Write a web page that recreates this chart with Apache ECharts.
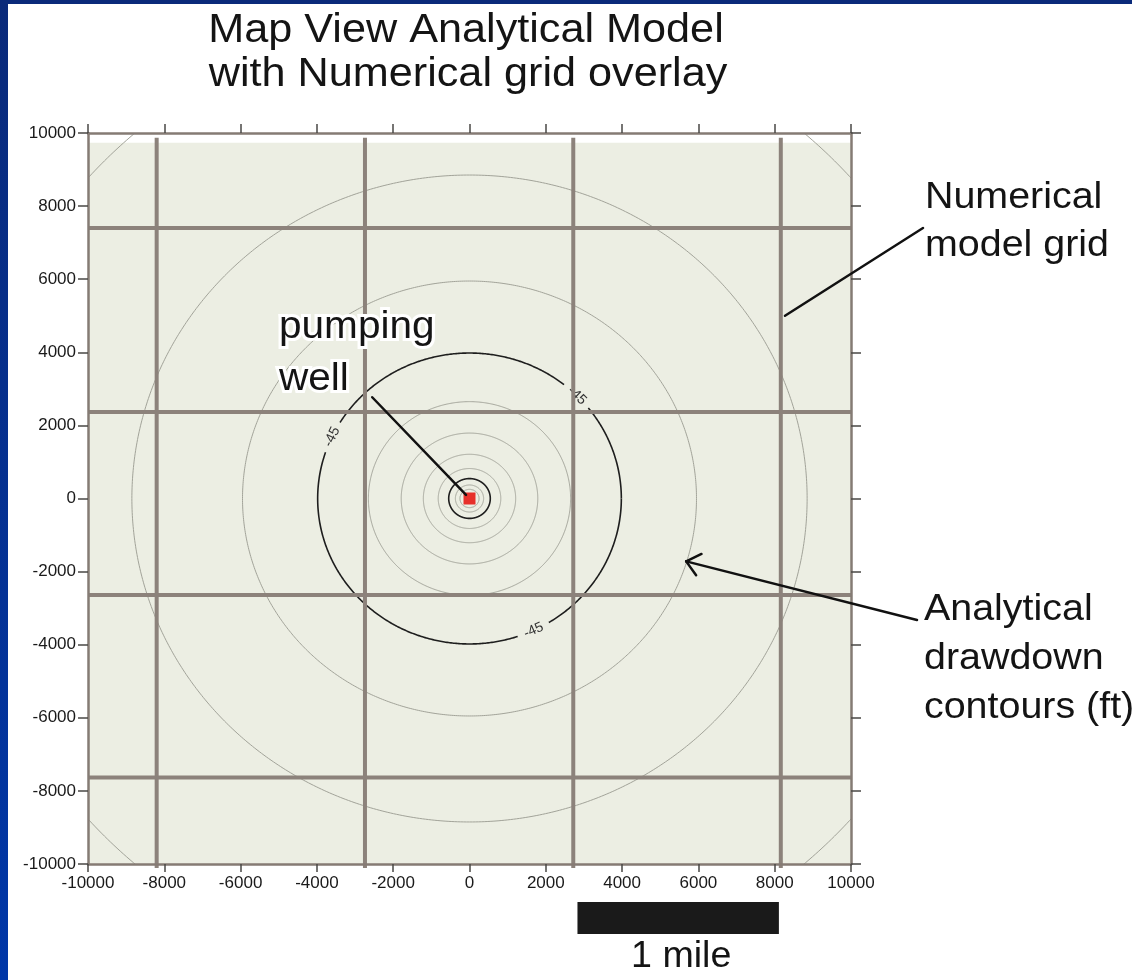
<!DOCTYPE html>
<html><head><meta charset="utf-8">
<script src="https://cdn.jsdelivr.net/npm/echarts@6/dist/echarts.min.js"></script>
<style>html,body{margin:0;padding:0;background:#fff;overflow:hidden;} #c{width:1132px;height:980px;}</style>
</head><body><div id="c"></div>
<script>
// ---- data ----
const axisMin = -10000, axisMax = 10000, tickStep = 2000;
const contourRadii = [250, 370, 545, 820, 1210, 1790, 2650, 3980, 5950, 8850, 13300]; // ft from well
const indexContourRadii = [545, 3980];          // dark (index) contours
const labelledRadius = 3980;                     // the -45 ft contour
const contourLabel = '-45';
const contourLabelAngles = [155, 45, -65];       // degrees around the well
const gridColsX = [-8200, -2740, 2720, 8160];    // numerical model grid columns (ft)
const gridRowsY = [7400, 2370, -2640, -7630];    // numerical model grid rows (ft)
const gridColTop = 9870;
const domainTop = 9730;
const wellXY = [0, 0];
const mileFt = 5280;
const scaleBarStartX = 2830;
const wellLeaderStart = [-2550, 2770];
const gridLeaderTip = [8270, 5000];
const contourArrowTip = [5680, -1720];

const FONT = '"Liberation Sans", Arial, Helvetica, sans-serif';
const chart = echarts.init(document.getElementById('c'), null, {renderer: 'canvas'});

function renderContour(params, api) {
  const r = api.value(0);
  const isIndex = indexContourRadii.indexOf(r) >= 0;
  const gaps = r === labelledRadius ? contourLabelAngles.map(a => (a + 360) % 360) : [];
  const gapHalf = 6.5;
  const children = [];
  const stroke = isIndex ? '#1e1e1e' : '#a2a399';
  const lw = isIndex ? 1.6 : 1;
  let pts = [];
  const flush = () => {
    if (pts.length > 1) children.push({type: 'polyline', shape: {points: pts}, style: {fill: null, stroke: stroke, lineWidth: lw}});
    pts = [];
  };
  for (let d = 0; d <= 360; d += 0.5) {
    let inGap = false;
    for (const g of gaps) {
      let diff = Math.abs(d - g); diff = Math.min(diff, 360 - diff);
      if (diff < gapHalf) inGap = true;
    }
    if (inGap) { flush(); continue; }
    const t = d * Math.PI / 180;
    pts.push(api.coord([r * Math.cos(t), r * Math.sin(t)]));
  }
  flush();
  for (const a of gaps) {
    const t = a * Math.PI / 180, e = 0.01;
    const p = api.coord([r * Math.cos(t), r * Math.sin(t)]);
    const p0 = api.coord([r * Math.cos(t - e), r * Math.sin(t - e)]);
    const p1 = api.coord([r * Math.cos(t + e), r * Math.sin(t + e)]);
    let dx = p1[0] - p0[0], dy = p1[1] - p0[1];
    if (dx < 0) { dx = -dx; dy = -dy; }
    children.push({type: 'text', x: p[0], y: p[1], rotation: -Math.atan2(dy, dx),
      style: {text: contourLabel, x: 0, y: 0, align: 'center', verticalAlign: 'middle',
        font: '14px ' + FONT, fill: '#333'}});
  }
  return {type: 'group', children: children};
}

const axisLineStyle = {color: '#857b74', width: 2.5};
const tickStyle = {color: '#4a4846', width: 1.5};
const labelStyle = {fontSize: 17, color: '#1a1a1a', fontFamily: FONT, formatter: v => String(v)};

const option = {
  animation: false,
  backgroundColor: '#ffffff',
  grid: {left: 88, top: 133, width: 763, height: 731, containLabel: false},
  xAxis: [
    {type: 'value', min: axisMin, max: axisMax, interval: tickStep, position: 'bottom', z: 10,
     axisLine: {show: true, onZero: false, lineStyle: axisLineStyle},
     axisTick: {show: true, length: 8, lineStyle: tickStyle},
     axisLabel: Object.assign({margin: 11}, labelStyle), splitLine: {show: false}},
    {type: 'value', min: axisMin, max: axisMax, interval: tickStep, position: 'top', z: 10,
     axisLine: {show: true, onZero: false, lineStyle: axisLineStyle},
     axisTick: {show: true, length: 9, lineStyle: tickStyle},
     axisLabel: {show: false}, splitLine: {show: false}}
  ],
  yAxis: [
    {type: 'value', min: axisMin, max: axisMax, interval: tickStep, position: 'left', z: 10,
     axisLine: {show: true, onZero: false, lineStyle: axisLineStyle},
     axisTick: {show: true, length: 10, lineStyle: tickStyle},
     axisLabel: Object.assign({margin: 12}, labelStyle), splitLine: {show: false}},
    {type: 'value', min: axisMin, max: axisMax, interval: tickStep, position: 'right', z: 10,
     axisLine: {show: true, onZero: false, lineStyle: axisLineStyle},
     axisTick: {show: true, length: 10, lineStyle: tickStyle},
     axisLabel: {show: false}, splitLine: {show: false}}
  ],
  series: [
    {type: 'custom', name: 'domain', z: 1, clip: true, silent: true,
     data: [[0, 0]],
     renderItem: (params, api) => {
       const a = api.coord([axisMin, domainTop]), b = api.coord([axisMax, axisMin]);
       return {type: 'rect', shape: {x: a[0], y: a[1], width: b[0] - a[0], height: b[1] - a[1]}, style: {fill: '#eceee3'}};
     }},
    {type: 'custom', name: 'contours', z: 2, clip: true, silent: true,
     data: contourRadii.map(r => [r, 0]),
     renderItem: renderContour},
    {type: 'custom', name: 'gridCols', z: 3, clip: false, silent: true,
     data: gridColsX.map(x => [x, 0]),
     renderItem: (params, api) => {
       const x = api.value(0);
       const t = api.coord([x, gridColTop]), b = api.coord([x, axisMin]);
       return {type: 'line', shape: {x1: t[0], y1: t[1], x2: b[0], y2: b[1] + 4}, style: {stroke: '#8c827b', lineWidth: 4}};
     }},
    {type: 'custom', name: 'gridRows', z: 3, clip: false, silent: true,
     data: gridRowsY.map(y => [0, y]),
     renderItem: (params, api) => {
       const y = api.value(1);
       const l = api.coord([axisMin, y]), r = api.coord([axisMax, y]);
       return {type: 'line', shape: {x1: l[0], y1: l[1], x2: r[0], y2: r[1]}, style: {stroke: '#8c827b', lineWidth: 4}};
     }},
    {type: 'scatter', name: 'well', z: 6, silent: true, symbol: 'rect', symbolSize: 12,
     itemStyle: {color: '#e7302a', opacity: 1}, data: [wellXY]}
  ]
};
chart.setOption(option);

// ---- annotations (layout) ----
const px = p => chart.convertToPixel({gridIndex: 0}, p);
function txt(str, x, baseline, size, align, sx) {
  return {type: 'text', x: x, y: baseline - 0.285 * size, scaleX: sx || 1.065, z: 100,
    style: {text: str, font: size + 'px ' + FONT, fill: '#141414', align: align, verticalAlign: 'middle'}};
}
function halo(str, x, baseline, size, align, sx) {
  const t = txt(str, x, baseline, size, align, sx);
  t.z = 99;
  t.style = Object.assign({}, t.style, {fill: '#ffffff', stroke: '#ffffff', lineWidth: 6, lineJoin: 'round'});
  return t;
}
const lineEl = (a, b, w) => ({type: 'line', z: 50, shape: {x1: a[0], y1: a[1], x2: b[0], y2: b[1]}, style: {stroke: '#111', lineWidth: w || 2.5, lineCap: 'round'}});

const wellPx = px(wellXY), wellStartPx = px(wellLeaderStart);
const wdx = wellPx[0] - wellStartPx[0], wdy = wellPx[1] - wellStartPx[1], wl = Math.hypot(wdx, wdy);
const wellEnd = [wellPx[0] - wdx / wl * 5, wellPx[1] - wdy / wl * 5];
const gridTipPx = px(gridLeaderTip);
const arrowTipPx = px(contourArrowTip);
const arrowTail = [917, 620];
const ang = Math.atan2(arrowTail[1] - arrowTipPx[1], arrowTail[0] - arrowTipPx[0]);
const headLen = 17, headAng = 40 * Math.PI / 180;
const h1 = [arrowTipPx[0] + headLen * Math.cos(ang - headAng), arrowTipPx[1] + headLen * Math.sin(ang - headAng)];
const h2 = [arrowTipPx[0] + headLen * Math.cos(ang + headAng), arrowTipPx[1] + headLen * Math.sin(ang + headAng)];
const barL = px([scaleBarStartX, axisMin]), barR = px([scaleBarStartX + mileFt, axisMin]);

const frameGrad = new echarts.graphic.LinearGradient(0, 0, 0, 1, [{offset: 0, color: '#0a2a7a'}, {offset: 1, color: '#0037a8'}]);

chart.setOption({graphic: [
  {type: 'rect', z: 200, shape: {x: 0, y: 0, width: 8, height: 980}, style: {fill: frameGrad}},
  {type: 'rect', z: 200, shape: {x: 0, y: 0, width: 1132, height: 4}, style: {fill: '#0a2a7a'}},
  txt('Map View Analytical Model', 466, 42, 40, 'center', 1.08),
  txt('with Numerical grid overlay', 468, 86, 40, 'center', 1.08),
  lineEl(wellStartPx, wellEnd),
  halo('pumping', 279, 338, 39, 'left', 1.04),
  halo('well', 279, 390, 39, 'left', 1.04),
  txt('pumping', 279, 338, 39, 'left', 1.04),
  txt('well', 279, 390, 39, 'left', 1.04),
  lineEl(gridTipPx, [923, 228]),
  txt('Numerical', 925, 208, 37, 'left'),
  txt('model grid', 925, 256, 37, 'left'),
  lineEl(arrowTail, arrowTipPx),
  lineEl(arrowTipPx, h1),
  lineEl(arrowTipPx, h2),
  txt('Analytical', 924, 620, 37, 'left'),
  txt('drawdown', 924, 669, 37, 'left'),
  txt('contours (ft)', 924, 718, 37, 'left'),
  {type: 'rect', z: 100, shape: {x: barL[0], y: 902, width: barR[0] - barL[0], height: 32}, style: {fill: '#1a1a1a'}},
  txt('1 mile', (barL[0] + barR[0]) / 2 + 3, 967, 36, 'center', 1.045)
]});
</script>
</body></html>
